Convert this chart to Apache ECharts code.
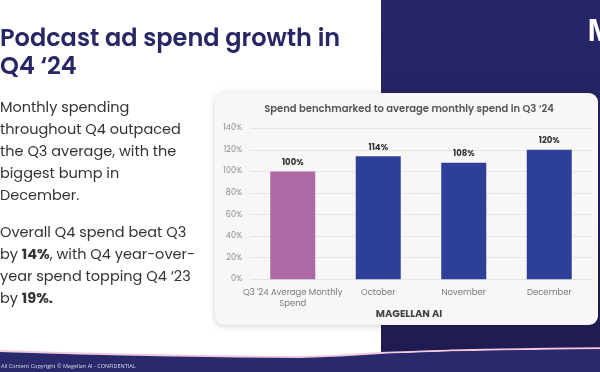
<!DOCTYPE html>
<html><head><meta charset="utf-8">
<script src="https://cdn.jsdelivr.net/npm/echarts@6/dist/echarts.min.js"></script>
<style>html,body{margin:0;padding:0;background:#fff}#c{width:600px;height:372px}</style>
</head><body><div id="c"></div>
<script>
const categories = ["Q3 '24 Average Monthly\nSpend", "October", "November", "December"];
const values = [100, 114, 108, 120];
const barColors = ["#ad68a6", "#2e3f97", "#2e3f97", "#2e3f97"];
const yTicks = [0, 20, 40, 60, 80, 100, 120, 140];
const chartTitle = "Spend benchmarked to average monthly spend in Q3 \u201824";
const slideTitle = ["Podcast ad spend growth in", "Q4 \u201824"];

const FONT = "Poppins, 'Open Sans', 'Noto Sans', sans-serif";
const chart = echarts.init(document.getElementById('c'));
const wave = [[0,352],[80,354.5],[160,356.3],[240,357.6],[300,358],[340,356.6],[380,354],[450,351.6],[520,350.2],[600,349.3]];
chart.setOption({
  animation: false,
  graphic: [
    // navy panel
    { type: 'rect', z: 0, shape: { x: 381, y: 0, width: 219, height: 372 },
      style: { fill: new echarts.graphic.LinearGradient(0, 0, 0, 1, [{ offset: 0, color: '#27266a' }, { offset: 1, color: '#1e1b51' }]) } },
    // logo
    { type: 'text', z: 1, x: 587, y: 17, style: { text: 'M', fill: '#ffffff', font: "bold 30px 'Open Sans', sans-serif" } },
    // footer wave
    { type: 'polyline', z: 2, shape: { points: wave.map(p => [p[0], p[1] - 1]), smooth: 0.4 }, style: { stroke: '#f2c8de', lineWidth: 2, fill: null } },
    { type: 'polygon', z: 3, shape: { points: wave.concat([[600,372],[0,372]]) }, style: { fill: '#29296c' } },
    { type: 'text', z: 4, x: 1, y: 363.5, style: { text: 'All Content Copyright \u00a9 Magellan AI - CONFIDENTIAL', fill: '#d8d8e8', font: "5.5px 'Open Sans', sans-serif" } },
    // slide title
    { type: 'text', z: 4, x: 0, y: 26, style: { text: slideTitle.join('\n'), fill: '#272766', font: "600 24px " + FONT, lineHeight: 28 } },
    // body text
    { type: 'text', z: 4, x: 0, y: 97, style: {
        text: 'Monthly spending\nthroughout Q4 outpaced\nthe Q3 average, with the\nbiggest bump in\nDecember.',
        fill: '#333333', font: "14.5px " + FONT, lineHeight: 22 } },
    { type: 'text', z: 4, x: 0, y: 222, style: {
        text: 'Overall Q4 spend beat Q3\nby {b|14%}, with Q4 year-over-\nyear spend topping Q4 \u201823\nby {b|19%.}',
        fill: '#333333', font: "14.5px " + FONT, lineHeight: 22,
        rich: { b: { fontWeight: 'bold', fontSize: 14.5, fontFamily: FONT, fill: '#333333', lineHeight: 22 } } } },
    // card
    { type: 'rect', z: 5, shape: { x: 215, y: 93, width: 383, height: 232, r: 9 },
      style: { fill: '#f8f7f5', shadowBlur: 6, shadowColor: 'rgba(0,0,0,0.18)', shadowOffsetY: 1 } },
    { type: 'text', z: 6, x: 409, y: 109, style: { text: chartTitle, fill: '#555555', font: "600 10px " + FONT, align: 'center', verticalAlign: 'middle' } },
    { type: 'text', z: 6, x: 409, y: 314, style: { text: 'MAGELLAN AI', fill: '#444444', font: "bold 10px " + FONT, align: 'center', verticalAlign: 'middle' } }
  ],
  grid: { left: 250, right: 8, top: 128.3, bottom: 92.7, containLabel: false, z: 10 },
  xAxis: {
    type: 'category', data: categories, z: 10,
    axisLine: { show: false }, axisTick: { show: false },
    axisLabel: { color: '#7a7a7a', fontSize: 8.5, fontFamily: FONT, margin: 8, lineHeight: 11, interval: 0 }
  },
  yAxis: {
    type: 'value', min: 0, max: 140, interval: 20, z: 10,
    axisLine: { show: false }, axisTick: { show: false },
    axisLabel: { color: '#8a8a8a', fontSize: 8, fontFamily: FONT, margin: 8, formatter: v => v + '%' },
    splitLine: { lineStyle: { color: '#e6e6e6', width: 1 } }
  },
  series: [{
    type: 'bar', z: 10, barWidth: 45,
    data: values.map((v, i) => ({ value: v, itemStyle: { color: barColors[i] } })),
    label: { show: true, position: 'top', distance: 4, formatter: p => p.value + '%', color: '#333333', fontWeight: 'bold', fontSize: 8.5, fontFamily: FONT }
  }]
});
</script></body></html>
